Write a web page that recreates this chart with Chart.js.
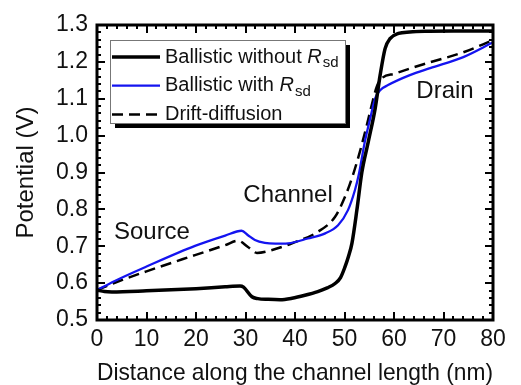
<!DOCTYPE html>
<html>
<head>
<meta charset="utf-8">
<script src="https://cdn.jsdelivr.net/npm/chart.js@4.4.0/dist/chart.umd.min.js"></script>
<style>
  html, body { margin: 0; padding: 0; background: #fff; }
</style>
</head>
<body>
<canvas id="potential-chart" width="521" height="385"></canvas>
<script>
// values: distance (nm) vs potential (V)
const xNoRsd = [0, 1.5, 3, 10, 20, 25.9, 28.9, 29.6, 31.3, 32.5, 34.6, 37, 39.4, 42, 44.6, 46.5, 48.1, 49.2, 50.1, 50.8, 51.5, 52.5, 53.5, 54.8, 56.2, 57.2, 58.2, 59.2, 60.9, 63.2, 67, 72, 80];
const yNoRsd = [0.581, 0.577, 0.576, 0.579, 0.585, 0.590, 0.592, 0.589, 0.563, 0.558, 0.556, 0.555, 0.559, 0.567, 0.577, 0.587, 0.599, 0.615, 0.644, 0.672, 0.708, 0.798, 0.900, 0.983, 1.074, 1.164, 1.236, 1.263, 1.277, 1.281, 1.283, 1.284, 1.284];

const xWithRsd = [0, 3.6, 10, 19.8, 25.9, 29.2, 30.5, 31.9, 33.9, 36, 38.6, 42.6, 46.1, 48.7, 50.7, 52.1, 52.9, 54.1, 55.2, 56.2, 57.2, 58.8, 63.2, 67.3, 74, 80];
const yWithRsd = [0.581, 0.606, 0.645, 0.701, 0.729, 0.742, 0.730, 0.717, 0.709, 0.707, 0.708, 0.721, 0.735, 0.757, 0.798, 0.852, 0.895, 0.983, 1.047, 1.101, 1.123, 1.137, 1.164, 1.183, 1.213, 1.253];

const xDrift = [0, 3.6, 10, 19.8, 25.9, 28.5, 30.5, 32.3, 35.4, 39.4, 44.6, 48.1, 50.1, 51.7, 53.1, 54.5, 55.5, 56.5, 57.5, 60.2, 63.2, 67.3, 74, 80];
const yDrift = [0.581, 0.601, 0.632, 0.676, 0.703, 0.715, 0.698, 0.682, 0.690, 0.708, 0.739, 0.780, 0.834, 0.893, 0.956, 1.028, 1.083, 1.132, 1.155, 1.168, 1.182, 1.199, 1.226, 1.259];

const seriesNames = ['Ballistic without R_sd', 'Ballistic with R_sd', 'Drift-diffusion'];

const regionNames = ['Source', 'Channel', 'Drain'];
const regionX = [11.1, 38.6, 70.3];
const regionY = [0.738, 0.839, 1.121];

const xTicks = [0, 10, 20, 30, 40, 50, 60, 70, 80];
const yTicks = [0.5, 0.6, 0.7, 0.8, 0.9, 1.0, 1.1, 1.2, 1.3];

const FONT = "'Liberation Sans', Arial, Helvetica, sans-serif";
Chart.defaults.font.family = FONT;
Chart.defaults.color = '#111';

function pts(xs, ys) {
  return xs.map((v, i) => ({ x: v, y: ys[i] }));
}

// frame with inward major/minor ticks on all four sides
const plotFrame = {
  id: 'plotFrame',
  afterDatasetsDraw(chart) {
    const { ctx, chartArea: a, scales: { x, y } } = chart;
    ctx.save();
    ctx.strokeStyle = '#000';
    ctx.lineWidth = 2;
    ctx.beginPath();
    for (let v = xTicks[0]; v <= xTicks[xTicks.length - 1]; v += 2) {
      const px = Math.round(x.getPixelForValue(v));
      const len = v % 10 === 0 ? 8 : 4;
      ctx.moveTo(px, a.bottom); ctx.lineTo(px, a.bottom - len);
      ctx.moveTo(px, a.top); ctx.lineTo(px, a.top + len);
    }
    for (let i = 0; i <= 40; i++) {
      const py = Math.round(y.getPixelForValue(yTicks[0] + i * 0.02));
      const len = i % 5 === 0 ? 8 : 4;
      ctx.moveTo(a.left, py); ctx.lineTo(a.left + len, py);
      ctx.moveTo(a.right, py); ctx.lineTo(a.right - len, py);
    }
    ctx.stroke();
    ctx.lineWidth = 3;
    ctx.strokeRect(a.left, a.top, a.right - a.left, a.bottom - a.top);
    ctx.restore();
  }
};

// region labels placed in data coordinates
const regionLabels = {
  id: 'regionLabels',
  afterDatasetsDraw(chart) {
    const { ctx, scales: { x, y } } = chart;
    ctx.save();
    ctx.font = '24px ' + FONT;
    ctx.fillStyle = '#111';
    ctx.textAlign = 'center';
    ctx.textBaseline = 'middle';
    regionNames.forEach((t, i) => {
      ctx.fillText(t, x.getPixelForValue(regionX[i]), y.getPixelForValue(regionY[i]));
    });
    ctx.restore();
  }
};

// boxed legend with shadow inside the plot, R with subscript sd
const boxLegend = {
  id: 'boxLegend',
  afterDraw(chart) {
    const { ctx, chartArea: a } = chart;
    const bx = a.left + 13, by = a.top + 15, bw = 235, bh = 83;
    ctx.save();
    ctx.fillStyle = '#000';
    ctx.fillRect(bx + 5, by + 5, bw, bh);
    ctx.fillStyle = '#fff';
    ctx.fillRect(bx, by, bw, bh);
    ctx.strokeStyle = '#777';
    ctx.lineWidth = 1;
    ctx.strokeRect(bx + 0.5, by + 0.5, bw, bh);
    chart.data.datasets.forEach((ds, i) => {
      const ly = by + 17 + i * 28.7;
      ctx.beginPath();
      ctx.strokeStyle = ds.borderColor;
      ctx.lineWidth = ds.borderWidth;
      ctx.setLineDash(ds.borderDash || []);
      ctx.moveTo(bx + 2, ly);
      ctx.lineTo(bx + 50, ly);
      ctx.stroke();
      ctx.setLineDash([]);
      ctx.fillStyle = '#111';
      ctx.textBaseline = 'middle';
      ctx.textAlign = 'left';
      let tx = bx + 55;
      const parts = ds.label.split('R_');
      ctx.font = '20px ' + FONT;
      ctx.fillText(parts[0], tx, ly);
      if (parts.length > 1) {
        tx += ctx.measureText(parts[0]).width;
        ctx.font = 'italic 20px ' + FONT;
        ctx.fillText('R', tx, ly);
        tx += ctx.measureText('R').width + 1;
        ctx.font = '15px ' + FONT;
        ctx.fillText(parts[1], tx, ly + 6);
      }
    });
    ctx.restore();
  }
};

new Chart(document.getElementById('potential-chart'), {
  type: 'line',
  data: {
    datasets: [
      {
        label: seriesNames[0],
        data: pts(xNoRsd, yNoRsd),
        borderColor: '#000',
        borderWidth: 3.5
      },
      {
        label: seriesNames[1],
        data: pts(xWithRsd, yWithRsd),
        borderColor: '#1414f0',
        borderWidth: 2.3
      },
      {
        label: seriesNames[2],
        data: pts(xDrift, yDrift),
        borderColor: '#000',
        borderWidth: 2.5,
        borderDash: [11, 6]
      }
    ]
  },
  options: {
    responsive: false,
    animation: false,
    devicePixelRatio: 1,
    layout: { padding: { top: 25, right: 28, left: 0, bottom: 0 } },
    elements: {
      point: { radius: 0 },
      line: { cubicInterpolationMode: 'monotone', fill: false }
    },
    plugins: {
      legend: { display: false },
      tooltip: { enabled: false }
    },
    scales: {
      x: {
        type: 'linear',
        min: 0,
        max: 80,
        afterBuildTicks: (s) => { s.ticks = xTicks.map(v => ({ value: v })); },
        afterFit: (s) => { s.height = 65; },
        grid: { display: false, drawTicks: false },
        border: { display: false },
        ticks: { font: { size: 23 }, color: '#111', padding: 6, maxRotation: 0 },
        title: {
          display: true,
          text: 'Distance along the channel length (nm)',
          font: { size: 24 },
          color: '#111',
          padding: { top: 0, bottom: -3 }
        }
      },
      y: {
        type: 'linear',
        min: 0.5,
        max: 1.3,
        afterBuildTicks: (s) => { s.ticks = yTicks.map(v => ({ value: v })); },
        afterFit: (s) => { s.width = 97; },
        grid: { display: false, drawTicks: false },
        border: { display: false },
        ticks: { font: { size: 23 }, color: '#111', padding: 9, callback: (v) => v.toFixed(1) },
        title: {
          display: true,
          text: 'Potential (V)',
          font: { size: 24 },
          color: '#111',
          padding: { top: 12, bottom: 0 }
        }
      }
    }
  },
  plugins: [plotFrame, regionLabels, boxLegend]
});
</script>
</body>
</html>
